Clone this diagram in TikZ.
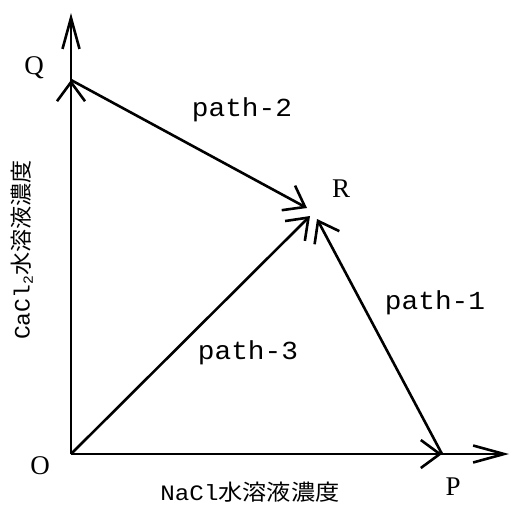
\documentclass[tikz,border=0pt]{standalone}
\usepackage{fontspec}
\setmainfont{Liberation Serif}
\newfontfamily\monof{Liberation Mono}
\newfontfamily\cjkf{Noto Sans CJK JP}
\usetikzlibrary{arrows.meta}
\begin{document}
\begin{tikzpicture}[x=1pt,y=-1pt,
  barb/.style={-{Straight Barb[length=19pt,width=28pt]}},
  axbarb/.style={-{Straight Barb[length=31pt,width=17pt]}},
  ln/.style={line width=2.6pt,black},
  pt/.style={font=\fontsize{27}{27}\selectfont},
  pathlbl/.style={font=\monof\fontsize{26}{26}\selectfont},
  axlbl/.style={font=\fontsize{22}{22}\selectfont,inner sep=0pt}]
\useasboundingbox (0,0) rectangle (510,504);
\coordinate (O) at (71,454);
\coordinate (Q) at (71,80);
\coordinate (P) at (442,454);
\coordinate (Yend) at (71,13);
\coordinate (Xend) at (509,454);
\coordinate (Rq) at (307,208);
\coordinate (Ro) at (310,216);
\coordinate (Rp) at (317,219);
% axes
\draw[ln,axbarb] (O) -- (Yend);
\draw[ln,axbarb] (O) -- (Xend);
% paths
\draw[ln,barb] (O) -- (Q);
\draw[ln,barb] (O) -- (P);
\draw[ln,barb] (Q) -- (Rq);
\draw[ln,barb] (O) -- (Ro);
\draw[ln,barb] (P) -- (Rp);
% point labels
\node[pt] (lQ) at (34,68) {Q};
\node[pt] (lR) at (341,189) {R};
\node[pt] (lP) at (453,487) {P};
\node[pt] (lO) at (40,466) {O};
% path labels
\node[pathlbl] (p2) at (242,110) {\scalebox{1.07}[1]{path-2}};
\node[pathlbl] (p1) at (435,303) {\scalebox{1.07}[1]{path-1}};
\node[pathlbl] (p3) at (248,353) {\scalebox{1.07}[1]{path-3}};
% axis labels
\node[axlbl] (xl) at (250,492) {\scalebox{1.1}[1]{\monof NaCl\cjkf 水溶液濃度}};
\node[axlbl,rotate=90] (yl) at (22,250) {\scalebox{1.05}[1]{\monof CaCl\raisebox{-0.15em}{\fontsize{14}{14}\selectfont 2}\cjkf 水溶液濃度}};
\end{tikzpicture}
\end{document}
